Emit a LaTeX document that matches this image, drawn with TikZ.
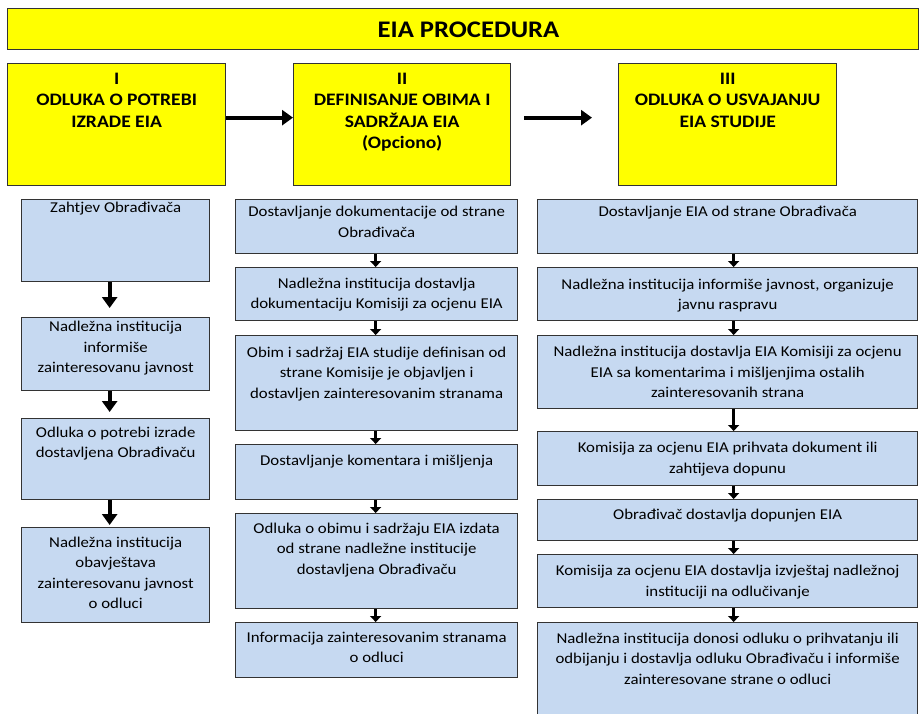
\documentclass[tikz,border=0pt]{standalone}
\usepackage{fontspec}
\setmainfont{Carlito}[FakeStretch=1.12]
\usetikzlibrary{arrows.meta}
\definecolor{hdryellow}{HTML}{FFFF00}
\definecolor{boxblue}{HTML}{C6D9F1}
\definecolor{edge}{HTML}{333333}
\tikzset{
  boxbase/.style={draw=edge, line width=1.3pt, inner sep=0pt, anchor=north west},
  hdrbox/.style={boxbase, fill=hdryellow},
  stepbox/.style={boxbase, fill=boxblue},
  hdrtext/.style={font=\bfseries\fontsize{17.5}{21.5}\selectfont},
  bodytext/.style={font=\fontsize{15}{20.5}\selectfont},
  bigarrow/.style={line width=4pt, -{Triangle[length=11pt,width=15pt]}},
  smallarrow/.style={line width=3pt, -{Triangle[length=6pt,width=11pt]}},
}
% name, box style, x1, y1, x2, y2, first baseline offset, text style, text
\newcommand\mkbox[9]{%
  \node[#2, minimum width={(#5-#3)*1pt}, minimum height={(#6-#4)*1pt}] (#1) at (#3,#4) {};
  \node[#8, anchor=base, inner sep=0pt] (#1-t) at ([yshift=-#7pt]#1.north) {\begin{tabular}[t]{@{}c@{}}#9\end{tabular}};
}
\begin{document}
\begin{tikzpicture}[x=1pt,y=-1pt]
\useasboundingbox (0,0) rectangle (919,713);
\clip (0,0) rectangle (919,713);
% title
\node[hdrbox, minimum width=911pt, minimum height=41pt] (title) at (7,8) {};
\node[anchor=base, inner sep=0pt, font=\bfseries\fontsize{23.8}{28}\selectfont] (title-t) at (468.5,37) {EIA PROCEDURA};
% headers
\mkbox{h1}{hdrbox}{7}{63}{225}{185}{21}{hdrtext}{I\\ODLUKA O POTREBI\\IZRADE EIA}
\mkbox{h2}{hdrbox}{293}{63}{510}{185}{21}{hdrtext}{II\\DEFINISANJE OBIMA I\\SADRŽAJA EIA\\(Opciono)}
\mkbox{h3}{hdrbox}{618}{63}{836}{185}{21}{hdrtext}{III\\ODLUKA O USVAJANJU\\EIA STUDIJE}
% column I
\mkbox{a1}{stepbox}{21}{199}{209}{281}{13}{bodytext}{Zahtjev Obrađivača}
\mkbox{a2}{stepbox}{21}{317}{209}{390}{14.7}{bodytext}{Nadležna institucija\\informiše\\zainteresovanu javnost}
\mkbox{a3}{stepbox}{21}{418}{209}{499}{19}{bodytext}{Odluka o potrebi izrade\\dostavljena Obrađivaču}
\mkbox{a4}{stepbox}{21}{527}{209}{622}{20}{bodytext}{Nadležna institucija\\obavještava\\zainteresovanu javnost\\o odluci}
% column II
\mkbox{b1}{stepbox}{235}{199}{517}{253}{17.7}{bodytext}{Dostavljanje dokumentacije od strane\\Obrađivača}
\mkbox{b2}{stepbox}{235}{267}{517}{320}{21}{bodytext}{Nadležna institucija dostavlja\\dokumentaciju Komisiji za ocjenu EIA}
\mkbox{b3}{stepbox}{235}{335}{517}{430}{22}{bodytext}{Obim i sadržaj EIA studije definisan od\\strane Komisije je objavljen i\\dostavljen zainteresovanim stranama}
\mkbox{b4}{stepbox}{235}{444}{517}{499}{21}{bodytext}{Dostavljanje komentara i mišljenja}
\mkbox{b5}{stepbox}{235}{513}{517}{608}{20}{bodytext}{Odluka o obimu i sadržaju EIA izdata\\od strane nadležne institucije\\dostavljena Obrađivaču}
\mkbox{b6}{stepbox}{235}{622}{517}{677}{20}{bodytext}{Informacija zainteresovanim stranama\\o odluci}
% column III
\mkbox{c1}{stepbox}{537}{199}{917}{253}{17}{bodytext}{Dostavljanje EIA od strane Obrađivača}
\mkbox{c2}{stepbox}{537}{267}{917}{320}{22}{bodytext}{Nadležna institucija informiše javnost, organizuje\\javnu raspravu}
\mkbox{c3}{stepbox}{537}{335}{917}{408}{21.7}{bodytext}{Nadležna institucija dostavlja EIA Komisiji za ocjenu\\EIA sa komentarima i mišljenjima ostalih\\zainteresovanih strana}
\mkbox{c4}{stepbox}{537}{431}{917}{485}{21.7}{bodytext}{Komisija za ocjenu EIA prihvata dokument ili\\zahtijeva dopunu}
\mkbox{c5}{stepbox}{537}{499}{917}{540}{20}{bodytext}{Obrađivač dostavlja dopunjen EIA}
\mkbox{c6}{stepbox}{537}{554}{917}{607}{21.7}{bodytext}{Komisija za ocjenu EIA dostavlja izvještaj nadležnoj\\instituciji na odlučivanje}
\mkbox{c7}{stepbox}{537}{622}{917}{730}{21}{bodytext}{Nadležna institucija donosi odluku o prihvatanju ili\\odbijanju i dostavlja odluku Obrađivaču i informiše\\zainteresovane strane o odluci}
% header arrows
\draw[bigarrow] ([yshift=7pt]h1.east) -- ([yshift=7pt]h2.west);
\draw[bigarrow, shorten <=13pt, shorten >=26pt] ([yshift=7pt]h2.east) -- ([yshift=7pt]h3.west);
% column I arrows
\draw[bigarrow, shorten >=9pt] ([xshift=-6pt]a1.south) -- ([xshift=-6pt]a2.north);
\draw[bigarrow, shorten >=6pt] ([xshift=-6pt]a2.south) -- ([xshift=-6pt]a3.north);
\draw[bigarrow, shorten >=2pt] ([xshift=-6pt]a3.south) -- ([xshift=-6pt]a4.north);
% column II arrows
\foreach \p/\q in {b1/b2,b2/b3,b3/b4,b4/b5,b5/b6}
  \draw[smallarrow] ([xshift=-1pt]\p.south) -- ([xshift=-1pt]\q.north);
% column III arrows
\foreach \p/\q in {c1/c2,c2/c3,c3/c4,c4/c5,c5/c6,c6/c7}
  \draw[smallarrow] ([xshift=6pt]\p.south) -- ([xshift=6pt]\q.north);
\end{tikzpicture}
\end{document}
